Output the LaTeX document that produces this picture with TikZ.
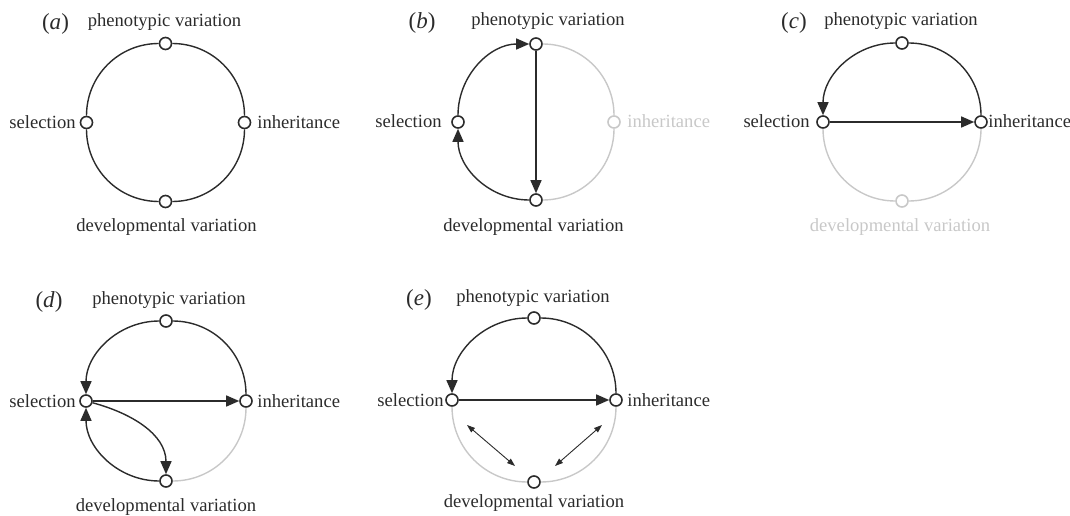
\documentclass[tikz,border=0pt]{standalone}
\usepackage{fontspec}
\setmainfont{Liberation Serif}
\usetikzlibrary{arrows.meta}
\definecolor{ink}{HTML}{2B2B2B}
\definecolor{pale}{HTML}{C8C8C8}
\tikzset{
  spot/.style={circle,draw=ink,fill=white,line width=0.8pt,minimum size=6pt,inner sep=0pt},
  palespot/.style={spot,draw=pale},
  ring/.style={draw=ink,line width=0.7pt},
  palering/.style={draw=pale,line width=0.7pt},
  flow/.style={ring,-{Triangle[length=6.5pt,width=5.5pt]}},
  twoway/.style={draw=ink,line width=0.45pt,{Triangle[length=4pt,width=2.8pt]}-{Triangle[length=4pt,width=2.8pt]}},
  lbl/.style={inner sep=0pt,font=\fontsize{9.3}{11}\selectfont,text=ink},
  panel/.style={inner sep=0pt,font=\fontsize{11.5}{13}\selectfont,text=ink,anchor=base},
}
\begin{document}
\begin{tikzpicture}[x=0.5pt,y=0.5pt]
\useasboundingbox (0,0) rectangle (1070,515);
% (a): the plain cycle
\begin{scope}[shift={(165.5,392.5)}]
\node[spot] (aP) at (0,79) {};
\node[spot] (aS) at (-79,0) {};
\node[spot] (aI) at (79,0) {};
\node[spot] (aD) at (0,-79) {};
\foreach \u/\v in {I/P,P/S,S/D,D/I} \draw[ring] (a\u) to[bend right=45] (a\v);
\node[panel] (aN) at (-110,93) {(\textit{a})};
\node[lbl,anchor=base] (aPl) at (-1,96) {phenotypic variation};
\node[lbl,anchor=base east] (aSl) at (-89.5,-6) {selection};
\node[lbl,anchor=base west] (aIl) at (91.5,-6) {inheritance};
\node[lbl,anchor=base] (aDl) at (1,-109) {developmental variation};
\end{scope}
% (b): no inheritance
\begin{scope}[shift={(536,393)}]
\node[spot] (bP) at (0,78) {};
\node[spot] (bS) at (-78,0) {};
\node[palespot] (bI) at (78,0) {};
\node[spot] (bD) at (0,-78) {};
\draw[palering] (bP) to[bend left=45] (bI);
\draw[palering] (bI) to[bend left=45] (bD);
\draw[flow] (bD) to[bend left=45] (bS);
\draw[flow] (bS) to[bend left=45] (bP);
\draw[flow] (bP) -- (bD);
\node[panel] (bN) at (-114,93) {(\textit{b})};
\node[lbl,anchor=base] (bPl) at (12,96) {phenotypic variation};
\node[lbl,anchor=base east] (bSl) at (-94,-6) {selection};
\node[lbl,anchor=base west,text=pale] (bIl) at (91,-6) {inheritance};
\node[lbl,anchor=base] (bDl) at (-2.5,-109) {developmental variation};
\end{scope}
% (c): no developmental variation
\begin{scope}[shift={(902,393)}]
\node[spot] (cP) at (0,79) {};
\node[spot] (cS) at (-79,0) {};
\node[spot] (cI) at (79,0) {};
\node[palespot] (cD) at (0,-79) {};
\draw[ring] (cI) to[bend right=45] (cP);
\draw[flow] (cP) to[bend right=45] (cS);
\draw[palering] (cS) to[bend right=45] (cD);
\draw[palering] (cD) to[bend right=45] (cI);
\draw[flow] (cS) -- (cI);
\node[panel] (cN) at (-108,93) {(\textit{c})};
\node[lbl,anchor=base] (cPl) at (-1,96) {phenotypic variation};
\node[lbl,anchor=base east] (cSl) at (-92,-6) {selection};
\node[lbl,anchor=base west] (cIl) at (86,-6) {inheritance};
\node[lbl,anchor=base,text=pale] (cDl) at (-2,-109) {developmental variation};
\end{scope}
% (d): selection feeds back on development
\begin{scope}[shift={(166,114)}]
\node[spot] (dP) at (0,80) {};
\node[spot] (dS) at (-80,0) {};
\node[spot] (dI) at (80,0) {};
\node[spot] (dD) at (0,-80) {};
\draw[ring] (dI) to[bend right=45] (dP);
\draw[flow] (dP) to[bend right=45] (dS);
\draw[flow] (dD) to[bend left=45] (dS);
\draw[palering] (dI) to[bend left=45] (dD);
\draw[flow] (dS) -- (dI);
\draw[flow] (dS) to[out=-15,in=90] (dD);
\node[panel] (dN) at (-117,94) {(\textit{d})};
\node[lbl,anchor=base] (dPl) at (3,97) {phenotypic variation};
\node[lbl,anchor=base east] (dSl) at (-90,-6) {selection};
\node[lbl,anchor=base west] (dIl) at (91,-6) {inheritance};
\node[lbl,anchor=base] (dDl) at (0,-110) {developmental variation};
\end{scope}
% (e): development coupled to both
\begin{scope}[shift={(534,115)}]
\node[spot] (eP) at (0,82) {};
\node[spot] (eS) at (-82,0) {};
\node[spot] (eI) at (82,0) {};
\node[spot] (eD) at (0,-82) {};
\draw[ring] (eI) to[bend right=45] (eP);
\draw[flow] (eP) to[bend right=45] (eS);
\draw[palering] (eS) to[bend right=45] (eD);
\draw[palering] (eD) to[bend right=45] (eI);
\draw[flow] (eS) -- (eI);
\coordinate (eL1) at (-67,-25);
\coordinate (eL2) at (-19,-66);
\coordinate (eR1) at (21,-66);
\coordinate (eR2) at (68,-25);
\draw[twoway] (eL1) -- (eL2);
\draw[twoway] (eR1) -- (eR2);
\node[panel] (eN) at (-115,95) {(\textit{e})};
\node[lbl,anchor=base] (ePl) at (-1,98) {phenotypic variation};
\node[lbl,anchor=base east] (eSl) at (-90,-6) {selection};
\node[lbl,anchor=base west] (eIl) at (93,-6) {inheritance};
\node[lbl,anchor=base] (eDl) at (0,-107) {developmental variation};
\end{scope}
\end{tikzpicture}
\end{document}
